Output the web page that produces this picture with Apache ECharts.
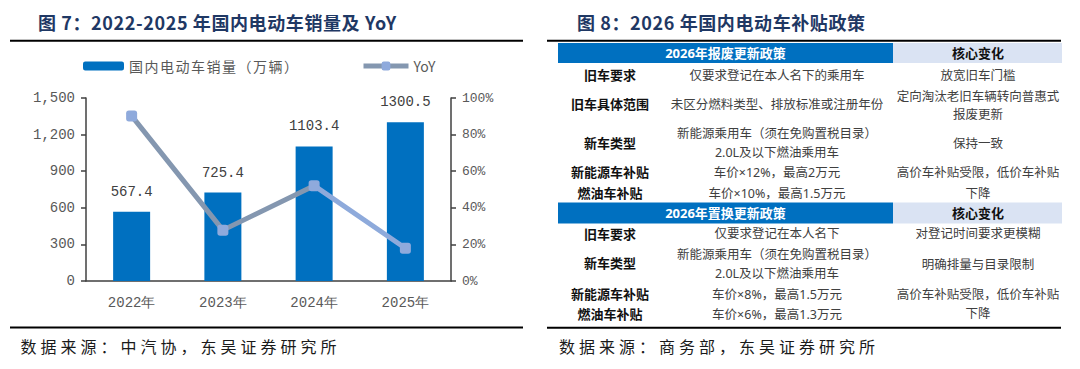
<!DOCTYPE html>
<html>
<head>
<meta charset="utf-8">
<script src="https://cdn.jsdelivr.net/npm/echarts@6/dist/echarts.min.js"></script>
<style>
html,body{margin:0;padding:0;background:#fff;}
#c{width:1080px;height:369px;}
</style>
</head>
<body>
<div id="c"></div>
<script>
// ---------- data ----------
const categories = ['2022年', '2023年', '2024年', '2025年'];
const salesValues = [567.4, 725.4, 1103.4, 1300.5];
const yoyValues = [0.902, 0.278, 0.521, 0.179];
const salesName = '国内电动车销量（万辆）';
const yoyName = 'YoY';
const title7 = '图 7：2022-2025 年国内电动车销量及 YoY';
const title8 = '图 8：2026 年国内电动车补贴政策';
const source7 = '数据来源：中汽协，东吴证券研究所';
const source8 = '数据来源：商务部，东吴证券研究所';

const scrapTitle = '2026年报废更新政策';
const swapTitle = '2026年置换更新政策';
const coreTitle = '核心变化';
const scrapNames = ['旧车要求', '旧车具体范围', '新车类型', '新能源车补贴', '燃油车补贴'];
const scrapPolicy = [
  ['仅要求登记在本人名下的乘用车'],
  ['未区分燃料类型、排放标准或注册年份'],
  ['新能源乘用车（须在免购置税目录）', '2.0L及以下燃油乘用车'],
  ['车价×12%，最高2万元'],
  ['车价×10%，最高1.5万元']
];
const scrapChange = ['放宽旧车门槛', '定向淘汰老旧车辆转向普惠式', '报废更新', '保持一致', '高价车补贴受限，低价车补贴', '下降'];
const swapNames = ['旧车要求', '新车类型', '新能源车补贴', '燃油车补贴'];
const swapPolicy = [
  ['仅要求登记在本人名下'],
  ['新能源乘用车（须在免购置税目录）', '2.0L及以下燃油乘用车'],
  ['车价×8%，最高1.5万元'],
  ['车价×6%，最高1.3万元']
];
const swapChange = ['对登记时间要求更模糊', '明确排量与目录限制', '高价车补贴受限，低价车补贴', '下降'];

// ---------- layout ----------
const CJK = '"Noto Sans CJK SC", "Noto Sans", sans-serif';
const BODY = '"Noto Sans", "Noto Sans CJK SC", sans-serif';
const MONO = '"Liberation Mono", "DejaVu Sans Mono", monospace';
const col1X = 610, col2X = 777, col3X = 978;
const scrapNameY = [75, 104, 143, 172, 193];
const scrapPolicyY = [[75], [104], [133.5, 152], [172], [193]];
const scrapChangeY = [75, 96, 114, 143, 172, 193];
const swapNameY = [233.5, 263, 294, 314];
const swapPolicyY = [[233.5], [254, 273], [294], [314]];
const swapChangeY = [233.5, 264, 294, 313.5];

function txt(t, x, y, opt) {
  opt = opt || {};
  return {
    type: 'text', silent: true,
    style: {
      text: t, x: x, y: y,
      fill: opt.fill || '#404040',
      fontSize: opt.size || 12.5,
      fontWeight: opt.weight || 'normal',
      fontFamily: opt.family || BODY,
      textAlign: opt.align || 'center',
      textVerticalAlign: 'middle'
    }
  };
}
function hline(x1, x2, y, w) {
  return { type: 'line', silent: true, shape: { x1: x1, y1: y, x2: x2, y2: y }, style: { stroke: '#000', lineWidth: w || 2 } };
}
function rect(x, y, w, h, c) {
  return { type: 'rect', silent: true, shape: { x: x, y: y, width: w, height: h }, style: { fill: c } };
}

const graphics = [];
// titles & rules
graphics.push(txt(title7, 38, 21.5, { size: 18, weight: 'bold', fill: '#1f3864', align: 'left', family: CJK }));
graphics.push(txt(title8, 577, 21.5, { size: 18, weight: 'bold', fill: '#1f3864', align: 'left', family: CJK }));
graphics.push(hline(10, 523, 40.7));
graphics.push(hline(10, 523, 327.5));
graphics.push(hline(547, 1061, 40.7));
graphics.push(hline(547, 1061, 327.7));
graphics.push(txt(source7, 20.5, 346, { size: 16, fill: '#1a1a1a', align: 'left', family: CJK }));
graphics.push(txt(source8, 559, 346, { size: 16, fill: '#1a1a1a', align: 'left', family: CJK }));

// table 1
graphics.push(rect(558, 43, 335, 20, '#0070c0'));
graphics.push(rect(893, 43, 169, 20, '#dae3f3'));
graphics.push(txt(scrapTitle, 725.5, 53, { fill: '#fff', weight: 'bold', size: 13 }));
graphics.push(txt(coreTitle, col3X, 53, { fill: '#111', weight: 'bold', size: 13 }));
scrapNames.forEach((n, i) => graphics.push(txt(n, col1X, scrapNameY[i], { fill: '#111', weight: 'bold', size: 13 })));
scrapPolicy.forEach((lines, i) => lines.forEach((l, j) => graphics.push(txt(l, col2X, scrapPolicyY[i][j]))));
scrapChange.forEach((l, i) => graphics.push(txt(l, col3X, scrapChangeY[i])));

// table 2
graphics.push(rect(558, 202.5, 335, 21, '#0070c0'));
graphics.push(rect(893, 202.5, 169, 21, '#dae3f3'));
graphics.push(txt(swapTitle, 725.5, 213, { fill: '#fff', weight: 'bold', size: 13 }));
graphics.push(txt(coreTitle, col3X, 213, { fill: '#111', weight: 'bold', size: 13 }));
swapNames.forEach((n, i) => graphics.push(txt(n, col1X, swapNameY[i], { fill: '#111', weight: 'bold', size: 13 })));
swapPolicy.forEach((lines, i) => lines.forEach((l, j) => graphics.push(txt(l, col2X, swapPolicyY[i][j]))));
swapChange.forEach((l, i) => graphics.push(txt(l, col3X, swapChangeY[i])));

const chart = echarts.init(document.getElementById('c'), null, { renderer: 'svg' });

const spacing = {};
spacing[title7] = 0.6;
spacing[title8] = 0.6;
spacing[source7] = 4;
spacing[source8] = 4;
spacing[salesName] = 1.5;
function applySpacing() {
  document.querySelectorAll('#c svg text').forEach(el => {
    const s = spacing[el.textContent];
    if (s) el.style.letterSpacing = s + 'px';
  });
}
chart.on('finished', applySpacing);

const lineGrad = new echarts.graphic.LinearGradient(0, 0, 1, 0, [
  { offset: 0, color: '#8497b0' },
  { offset: 0.667, color: '#8497b0' },
  { offset: 0.668, color: '#8eaadb' },
  { offset: 1, color: '#8eaadb' }
]);

chart.setOption({
  backgroundColor: '#fff',
  animation: false,
  grid: { left: 86, right: 629, top: 98, bottom: 88, containLabel: false },
  legend: [
    {
      data: [{ name: salesName }],
      left: 83, top: 59, padding: 0, itemWidth: 41, itemHeight: 9, selectedMode: false,
      textStyle: { fontSize: 14, color: '#595959', fontFamily: CJK }
    },
    {
      data: [{ name: yoyName, itemStyle: { color: '#8faadc' }, lineStyle: { color: '#8497b0', width: 5 } }],
      left: 361, top: 59, padding: 0, itemWidth: 45, itemHeight: 11, selectedMode: false,
      textStyle: { fontSize: 14, color: '#595959', fontFamily: CJK }
    }
  ],
  xAxis: {
    type: 'category', data: categories,
    axisLine: { lineStyle: { color: '#404040', width: 1.5 } },
    axisTick: { show: false },
    axisLabel: { color: '#595959', fontSize: 14, fontFamily: MONO, margin: 15 }
  },
  yAxis: [
    {
      type: 'value', min: 0, max: 1500, interval: 300,
      axisLine: { show: true, lineStyle: { color: '#404040', width: 1.5 } },
      axisTick: { show: true, length: 5, lineStyle: { color: '#404040', width: 1.5 } },
      splitLine: { show: false },
      axisLabel: {
        color: '#595959', fontSize: 14, fontFamily: MONO, margin: 11,
        formatter: v => v >= 1000 ? Math.floor(v / 1000) + ',' + String(v % 1000).padStart(3, '0') : String(v)
      }
    },
    {
      type: 'value', min: 0, max: 1, interval: 0.2, position: 'right',
      axisLine: { show: true, lineStyle: { color: '#404040', width: 1.5 } },
      axisTick: { show: true, length: 5, lineStyle: { color: '#404040', width: 1.5 } },
      splitLine: { show: false },
      axisLabel: {
        color: '#595959', fontSize: 13, fontFamily: MONO, margin: 11,
        formatter: v => Math.round(v * 100) + '%'
      }
    }
  ],
  series: [
    {
      name: salesName, type: 'bar', data: salesValues, barWidth: 37,
      itemStyle: { color: '#0070c0' },
      label: {
        show: true, position: 'top', distance: 13,
        color: '#404040', fontSize: 14, fontFamily: MONO,
        formatter: p => p.value.toFixed(1)
      }
    },
    {
      name: yoyName, type: 'line', yAxisIndex: 1, data: yoyValues, z: 5,
      symbol: 'roundRect', symbolSize: 11,
      itemStyle: { color: '#8faadc' },
      lineStyle: { color: lineGrad, width: 5 }
    }
  ],
  graphic: graphics
});
applySpacing();
setTimeout(applySpacing, 50);
</script>
</body>
</html>
